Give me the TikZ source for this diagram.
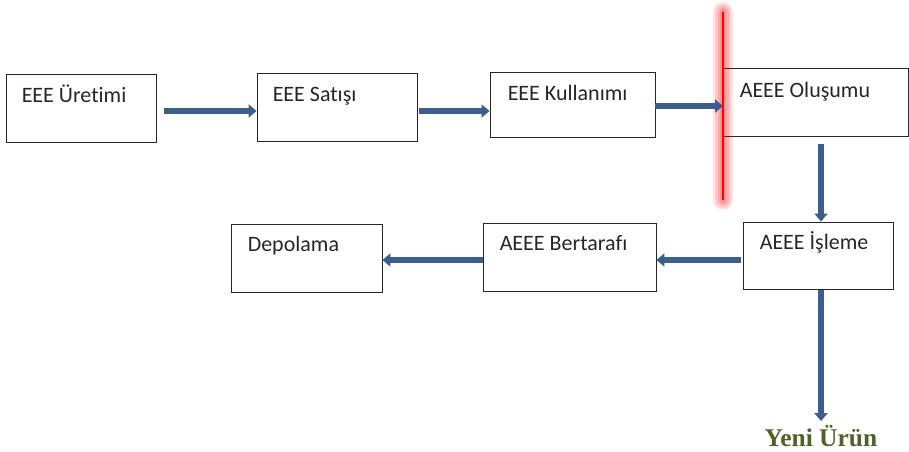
\documentclass[tikz,border=0pt]{standalone}
\usepackage{fontspec}
\setmainfont[Ligatures=NoCommon]{Carlito}
\newfontfamily\yenifont{Liberation Serif}
\usetikzlibrary{arrows.meta,positioning}
\definecolor{okmavi}{RGB}{59,94,140}
\definecolor{yesil}{RGB}{79,98,40}

\begin{document}
\begin{tikzpicture}[x=1pt,y=-1pt,
    kutu/.style={draw=black!85, line width=0.9pt, minimum height=68pt, inner sep=0pt},
    yazi/.style={anchor=base west, inner sep=0pt, font=\fontsize{22}{26}\selectfont, text=black!85},
    akis/.style={draw=okmavi, line width=6.5pt, -{Triangle[width=13pt,length=8pt]}},
    isik/.style={red, line cap=round}]
  \useasboundingbox (0,0) rectangle (909,451);

  \node [kutu, minimum width=150pt] (uretim)  at (81,108)    {};
  \node [kutu, minimum width=160pt] (satis)   at (337,107)   {};
  \node [kutu, minimum width=165pt, minimum height=65pt] (kullanim) at (572.5,104.5) {};
  \node [kutu, minimum width=185pt] (olusum)  at (815.5,102) {};
  \node [kutu, minimum width=150pt, minimum height=67pt] (isleme) at (818,255.5) {};
  \node [kutu, minimum width=173pt] (bertaraf) at (569.5,257) {};
  \node [kutu, minimum width=151pt] (depolama) at (306.5,258) {};

  \node [yazi] (turetim)   at ([xshift=16pt,yshift=-29pt]uretim.north west)   {EEE Üretimi};
  \node [yazi] (tsatis)    at ([xshift=16pt,yshift=-29pt]satis.north west)    {EEE Satışı};
  \node [yazi] (tkullanim) at ([xshift=18pt,yshift=-29pt]kullanim.north west) {EEE Kullanımı};
  \node [yazi] (tolusum)   at ([xshift=17pt,yshift=-30pt]olusum.north west)   {AEEE Oluşumu};
  \node [yazi] (tisleme)   at ([xshift=17pt,yshift=-28pt]isleme.north west)   {AEEE İşleme};
  \node [yazi] (tbertaraf) at ([xshift=17pt,yshift=-28pt]bertaraf.north west) {AEEE Bertarafı};
  \node [yazi] (tdepolama) at ([xshift=17pt,yshift=-28pt]depolama.north west) {Depolama};

  \node [inner sep=1pt, text=yesil, font=\yenifont\bfseries\fontsize{25.5}{28}\selectfont] (yeni) at (821,436) {Yeni Ürün};

  \coordinate (kirmiziust) at (723,12);
  \coordinate (kirmizialt) at (723,200);
  \draw [isik, line width=20pt, opacity=0.1] (kirmiziust) -- (kirmizialt);
  \draw [isik, line width=16pt, opacity=0.12] (kirmiziust) -- (kirmizialt);
  \draw [isik, line width=11pt, opacity=0.15]  (kirmiziust) -- (kirmizialt);
  \draw [isik, line width=6pt, opacity=0.15]  (kirmiziust) -- (kirmizialt);
  \draw [red, line width=1.2pt] (kirmiziust) -- (kirmizialt);

  \draw [akis, shorten <=8pt] ([yshift=-3pt]uretim.east) -- ([yshift=-3pt]uretim.east -| satis.west);
  \draw [akis, shorten <=2pt] ([yshift=-4pt]satis.east) -- ([yshift=-4pt]satis.east -| kullanim.west);
  \draw [akis] ([yshift=-1.5pt]kullanim.east) -- ([yshift=-1.5pt]kullanim.east -| kirmiziust);
  \draw [akis, shorten <=8pt] ([xshift=3pt]isleme.north |- olusum.south) -- ([xshift=3pt]isleme.north);
  \draw [akis, shorten <=2pt] ([yshift=-4.5pt]isleme.west) -- ([yshift=-4.5pt]isleme.west -| bertaraf.east);
  \draw [akis] ([yshift=-3pt]bertaraf.west) -- ([yshift=-3pt]bertaraf.west -| depolama.east);
  \draw [akis, shorten <=1pt, shorten >=3pt] ([xshift=3pt]isleme.south) -- ([xshift=3pt]isleme.south |- yeni.north);
\end{tikzpicture}
\end{document}
